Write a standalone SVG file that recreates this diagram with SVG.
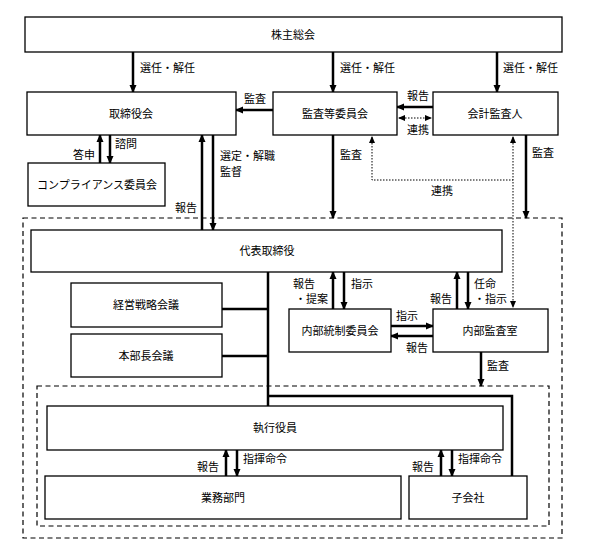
<svg xmlns="http://www.w3.org/2000/svg" width="595" height="548" viewBox="0 0 595 548">
<style>
.box{fill:#fff;stroke:#000;stroke-width:1.3}
.t{font-family:"Liberation Serif","Noto Sans CJK JP",serif;font-size:11px;fill:#000}
.c{text-anchor:middle}
.e{text-anchor:end}
.a{fill:none;stroke:#000;stroke-width:2.5}
.ln{fill:none;stroke:#000;stroke-width:2.5}
.d{fill:none;stroke:#000;stroke-width:1;stroke-dasharray:1.5,1.5}
.dash{fill:none;stroke:#000;stroke-width:1.2;stroke-dasharray:5,3.5}
</style>
<defs>
<marker id="ah" markerUnits="userSpaceOnUse" markerWidth="8" markerHeight="8" refX="7" refY="4" orient="auto-start-reverse" viewBox="0 0 8 8"><path d="M0,0.5 L8,4 L0,7.5 z" fill="#000"/></marker>
<marker id="as" markerUnits="userSpaceOnUse" markerWidth="7" markerHeight="7" refX="6" refY="3.5" orient="auto-start-reverse" viewBox="0 0 7 7"><path d="M0,0.5 L7,3.5 L0,6.5 z" fill="#000"/></marker>
</defs>
<rect class="dash" x="23" y="218" width="539" height="320"/>
<rect class="dash" x="37" y="386" width="512" height="140"/>
<g id="connectors">
<line class="a" x1="133" y1="52" x2="133" y2="92" marker-end="url(#ah)"/>
<line class="a" x1="333" y1="52" x2="333" y2="92" marker-end="url(#ah)"/>
<line class="a" x1="497" y1="52" x2="497" y2="92" marker-end="url(#ah)"/>
<line class="a" x1="273" y1="110" x2="236" y2="110" marker-end="url(#ah)"/>
<line class="a" x1="433" y1="107" x2="397" y2="107" marker-end="url(#ah)"/>
<line class="d" x1="399" y1="118" x2="431" y2="118" marker-start="url(#as)" marker-end="url(#as)"/>
<line class="a" x1="100" y1="163" x2="100" y2="135" marker-end="url(#ah)"/>
<line class="a" x1="110" y1="135" x2="110" y2="163" marker-end="url(#ah)"/>
<line class="a" x1="202" y1="230" x2="202" y2="135" marker-end="url(#ah)"/>
<line class="a" x1="213" y1="135" x2="213" y2="230" marker-end="url(#ah)"/>
<line class="a" x1="333" y1="135" x2="333" y2="218" marker-end="url(#ah)"/>
<line class="a" x1="526" y1="135" x2="526" y2="218" marker-end="url(#ah)"/>
<polyline class="d" points="372,137 372,180 513,180" marker-start="url(#as)"/>
<line class="d" x1="513" y1="137" x2="513" y2="307" marker-start="url(#as)" marker-end="url(#as)"/>
<line class="ln" x1="268" y1="272" x2="268" y2="406"/>
<line class="ln" x1="222" y1="309" x2="268" y2="309"/>
<line class="ln" x1="222" y1="356" x2="268" y2="356"/>
<polyline class="ln" points="268,396 512,396 512,476"/>
<line class="a" x1="333" y1="309" x2="333" y2="272" marker-end="url(#ah)"/>
<line class="a" x1="344" y1="272" x2="344" y2="309" marker-end="url(#ah)"/>
<line class="a" x1="457" y1="309" x2="457" y2="272" marker-end="url(#ah)"/>
<line class="a" x1="468" y1="272" x2="468" y2="309" marker-end="url(#ah)"/>
<line class="a" x1="391" y1="326" x2="433" y2="326" marker-end="url(#ah)"/>
<line class="a" x1="433" y1="336" x2="391" y2="336" marker-end="url(#ah)"/>
<line class="a" x1="481" y1="352" x2="481" y2="386" marker-end="url(#ah)"/>
<line class="a" x1="226" y1="476" x2="226" y2="450" marker-end="url(#ah)"/>
<line class="a" x1="237" y1="450" x2="237" y2="476" marker-end="url(#ah)"/>
<line class="a" x1="441" y1="476" x2="441" y2="450" marker-end="url(#ah)"/>
<line class="a" x1="452" y1="450" x2="452" y2="476" marker-end="url(#ah)"/>
</g>
<g id="labels">
<text class="t" x="140" y="72">選任・解任</text>
<text class="t" x="340" y="72">選任・解任</text>
<text class="t" x="503" y="72">選任・解任</text>
<text class="t" x="244" y="103">監査</text>
<text class="t c" x="418" y="100">報告</text>
<text class="t c" x="418" y="134">連携</text>
<text class="t e" x="95" y="159">答申</text>
<text class="t" x="115" y="148">諮問</text>
<text class="t" x="220" y="160">選定・解職</text>
<text class="t" x="220" y="176">監督</text>
<text class="t e" x="197" y="212">報告</text>
<text class="t" x="340" y="159">監査</text>
<text class="t" x="532" y="157">監査</text>
<text class="t c" x="442" y="195">連携</text>
<text class="t" x="293" y="288">報告</text>
<text class="t" x="295" y="303">・提案</text>
<text class="t" x="351" y="288">指示</text>
<text class="t e" x="452" y="303">報告</text>
<text class="t" x="474" y="288">任命</text>
<text class="t" x="474" y="303">・指示</text>
<text class="t" x="396" y="320">指示</text>
<text class="t" x="406" y="352">報告</text>
<text class="t" x="487" y="370">監査</text>
<text class="t e" x="219" y="471">報告</text>
<text class="t" x="243" y="463">指揮命令</text>
<text class="t e" x="434" y="471">報告</text>
<text class="t" x="458" y="463">指揮命令</text>
</g>
<g id="n1"><rect class="box" x="25" y="17" width="537" height="35"/><text class="t c" x="293" y="39">株主総会</text></g>
<g id="n2"><rect class="box" x="27" y="92" width="209" height="43"/><text class="t c" x="131" y="118">取締役会</text></g>
<g id="n3"><rect class="box" x="273" y="92" width="124" height="43"/><text class="t c" x="335" y="118">監査等委員会</text></g>
<g id="n4"><rect class="box" x="433" y="92" width="125" height="43"/><text class="t c" x="495" y="118">会計監査人</text></g>
<g id="n5"><rect class="box" x="28" y="163" width="137" height="43"/><text class="t c" x="97" y="189">コンプライアンス委員会</text></g>
<g id="n6"><rect class="box" x="31" y="230" width="471" height="42"/><text class="t c" x="267" y="255">代表取締役</text></g>
<g id="n7"><rect class="box" x="71" y="283" width="151" height="44"/><text class="t c" x="146" y="309">経営戦略会議</text></g>
<g id="n8"><rect class="box" x="71" y="334" width="151" height="43"/><text class="t c" x="146" y="360">本部長会議</text></g>
<g id="n9"><rect class="box" x="289" y="309" width="102" height="43"/><text class="t c" x="340" y="335">内部統制委員会</text></g>
<g id="n10"><rect class="box" x="433" y="309" width="115" height="43"/><text class="t c" x="490" y="335">内部監査室</text></g>
<g id="n11"><rect class="box" x="47" y="406" width="456" height="44"/><text class="t c" x="275" y="432">執行役員</text></g>
<g id="n12"><rect class="box" x="45" y="476" width="356" height="43"/><text class="t c" x="223" y="502">業務部門</text></g>
<g id="n13"><rect class="box" x="409" y="476" width="118" height="43"/><text class="t c" x="468" y="502">子会社</text></g>
</svg>
